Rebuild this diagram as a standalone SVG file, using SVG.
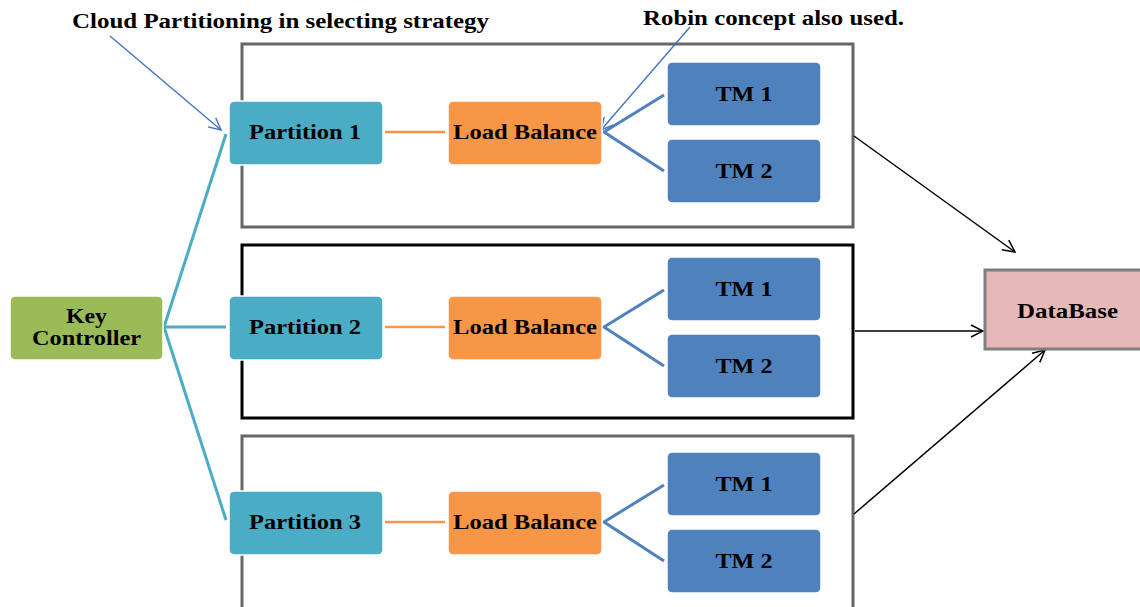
<svg xmlns="http://www.w3.org/2000/svg" width="1140" height="607" viewBox="0 0 1140 607">
  <defs>
    <marker id="open" viewBox="0 0 12 12" refX="11" refY="6" markerWidth="12" markerHeight="12" markerUnits="userSpaceOnUse" orient="auto">
      <path d="M1,1 L11,6 L1,11" fill="none" stroke="context-stroke" stroke-width="1.4"/>
    </marker>
    <marker id="openBlk" viewBox="0 0 14 14" refX="13" refY="7" markerWidth="14" markerHeight="14" markerUnits="userSpaceOnUse" orient="auto">
      <path d="M1,1 L13,7 L1,13" fill="none" stroke="#000" stroke-width="1.5"/>
    </marker>
    <marker id="openBlue" viewBox="0 0 14 14" refX="13" refY="7" markerWidth="14" markerHeight="14" markerUnits="userSpaceOnUse" orient="auto">
      <path d="M1,1 L13,7 L1,13" fill="none" stroke="#4472C4" stroke-width="1.4"/>
    </marker>
  </defs>
  <style>
    text { font-family: "Liberation Serif", "Times New Roman", serif; font-weight: bold; fill: #000; }
    .lbl { font-size: 21px; text-anchor: middle; }
    .note { font-size: 20px; }
    .frame { fill: none; stroke-width: 3; }
    .part { fill: #4BACC6; stroke: #ffffff; stroke-width: 1.5; }
    .lb { fill: #F79646; stroke: #ffffff; stroke-width: 1.5; }
    .tm { fill: #4F81BD; stroke: #ffffff; stroke-width: 1.5; }
    .key { fill: #9BBB59; stroke: #ffffff; stroke-width: 1.5; }
    .db { fill: #E6B9B8; stroke: #7F7F7F; stroke-width: 3; }
    .c-part { stroke: #4BACC6; stroke-width: 3; fill: none; }
    .c-lb { stroke: #F79646; stroke-width: 2.5; fill: none; }
    .c-tm { stroke: #4F81BD; stroke-width: 3; fill: none; }
    .c-db { stroke: #000; stroke-width: 1.5; fill: none; }
    .c-note { stroke: #4472C4; stroke-width: 1.4; fill: none; }
  </style>

  <!-- group frames -->
  <g id="frames">
    <rect class="frame" x="242" y="44" width="611" height="183" stroke="#666666"/>
    <rect class="frame" x="242" y="245" width="611" height="173" stroke="#000000"/>
    <rect class="frame" x="242" y="436" width="611" height="185" stroke="#666666"/>
  </g>

  <!-- connectors -->
  <g id="connectors">
    <line class="c-part" x1="164" y1="327" x2="226" y2="134"/>
    <line class="c-part" x1="164" y1="327" x2="226" y2="327"/>
    <line class="c-part" x1="164" y1="327" x2="226" y2="520"/>

    <line class="c-lb" x1="385" y1="132" x2="445" y2="132"/>
    <line class="c-lb" x1="385" y1="327" x2="445" y2="327"/>
    <line class="c-lb" x1="385" y1="522" x2="445" y2="522"/>

    <polyline class="c-tm" points="664,95 604,132 664,171"/>
    <polyline class="c-tm" points="664,290 604,327 664,366"/>
    <polyline class="c-tm" points="664,485 604,522 664,561"/>

    <line class="c-db" x1="854" y1="136" x2="1015" y2="252" marker-end="url(#openBlk)"/>
    <line class="c-db" x1="855" y1="331" x2="983" y2="331" marker-end="url(#openBlk)"/>
    <line class="c-db" x1="854" y1="514" x2="1045" y2="350" marker-end="url(#openBlk)"/>

    <line class="c-note" x1="110" y1="36" x2="221" y2="130" marker-end="url(#openBlue)"/>
    <line class="c-note" x1="690" y1="27" x2="601" y2="130" marker-end="url(#openBlue)"/>
  </g>

  <!-- annotations -->
  <text class="note" x="72" y="28" textLength="417" lengthAdjust="spacingAndGlyphs">Cloud Partitioning in selecting strategy</text>
  <text class="note" x="643" y="25" textLength="261" lengthAdjust="spacingAndGlyphs">Robin concept also used.</text>

  <g id="key-controller">
    <rect class="key" x="10" y="296" width="153" height="64" rx="5"/>
    <text class="lbl" x="86.5" y="323" textLength="41" lengthAdjust="spacingAndGlyphs">Key</text>
    <text class="lbl" x="86.5" y="345" textLength="109" lengthAdjust="spacingAndGlyphs">Controller</text>
  </g>

  <g id="partition-1">
    <rect class="part" x="229" y="101" width="154" height="64" rx="5"/>
    <text class="lbl" x="305" y="139" textLength="112" lengthAdjust="spacingAndGlyphs">Partition 1</text>
  </g>
  <g id="partition-2">
    <rect class="part" x="229" y="296" width="154" height="64" rx="5"/>
    <text class="lbl" x="305" y="334" textLength="112" lengthAdjust="spacingAndGlyphs">Partition 2</text>
  </g>
  <g id="partition-3">
    <rect class="part" x="229" y="491" width="154" height="64" rx="5"/>
    <text class="lbl" x="305" y="529" textLength="112" lengthAdjust="spacingAndGlyphs">Partition 3</text>
  </g>

  <g id="load-balance-1">
    <rect class="lb" x="448" y="101" width="154" height="64" rx="5"/>
    <text class="lbl" x="525" y="139" textLength="144" lengthAdjust="spacingAndGlyphs">Load Balance</text>
  </g>
  <g id="load-balance-2">
    <rect class="lb" x="448" y="296" width="154" height="64" rx="5"/>
    <text class="lbl" x="525" y="334" textLength="144" lengthAdjust="spacingAndGlyphs">Load Balance</text>
  </g>
  <g id="load-balance-3">
    <rect class="lb" x="448" y="491" width="154" height="64" rx="5"/>
    <text class="lbl" x="525" y="529" textLength="144" lengthAdjust="spacingAndGlyphs">Load Balance</text>
  </g>

  <g id="tm-1-1">
    <rect class="tm" x="667" y="62" width="154" height="64" rx="5"/>
    <text class="lbl" x="744" y="101" textLength="57" lengthAdjust="spacingAndGlyphs">TM 1</text>
  </g>
  <g id="tm-1-2">
    <rect class="tm" x="667" y="139" width="154" height="64" rx="5"/>
    <text class="lbl" x="744" y="178" textLength="57" lengthAdjust="spacingAndGlyphs">TM 2</text>
  </g>
  <g id="tm-2-1">
    <rect class="tm" x="667" y="257" width="154" height="64" rx="5"/>
    <text class="lbl" x="744" y="296" textLength="57" lengthAdjust="spacingAndGlyphs">TM 1</text>
  </g>
  <g id="tm-2-2">
    <rect class="tm" x="667" y="334" width="154" height="64" rx="5"/>
    <text class="lbl" x="744" y="373" textLength="57" lengthAdjust="spacingAndGlyphs">TM 2</text>
  </g>
  <g id="tm-3-1">
    <rect class="tm" x="667" y="452" width="154" height="64" rx="5"/>
    <text class="lbl" x="744" y="491" textLength="57" lengthAdjust="spacingAndGlyphs">TM 1</text>
  </g>
  <g id="tm-3-2">
    <rect class="tm" x="667" y="529" width="154" height="64" rx="5"/>
    <text class="lbl" x="744" y="568" textLength="57" lengthAdjust="spacingAndGlyphs">TM 2</text>
  </g>

  <g id="database">
    <rect class="db" x="985" y="270" width="160" height="79"/>
    <text class="lbl" x="1067.5" y="318" textLength="101" lengthAdjust="spacingAndGlyphs">DataBase</text>
  </g>
</svg>
